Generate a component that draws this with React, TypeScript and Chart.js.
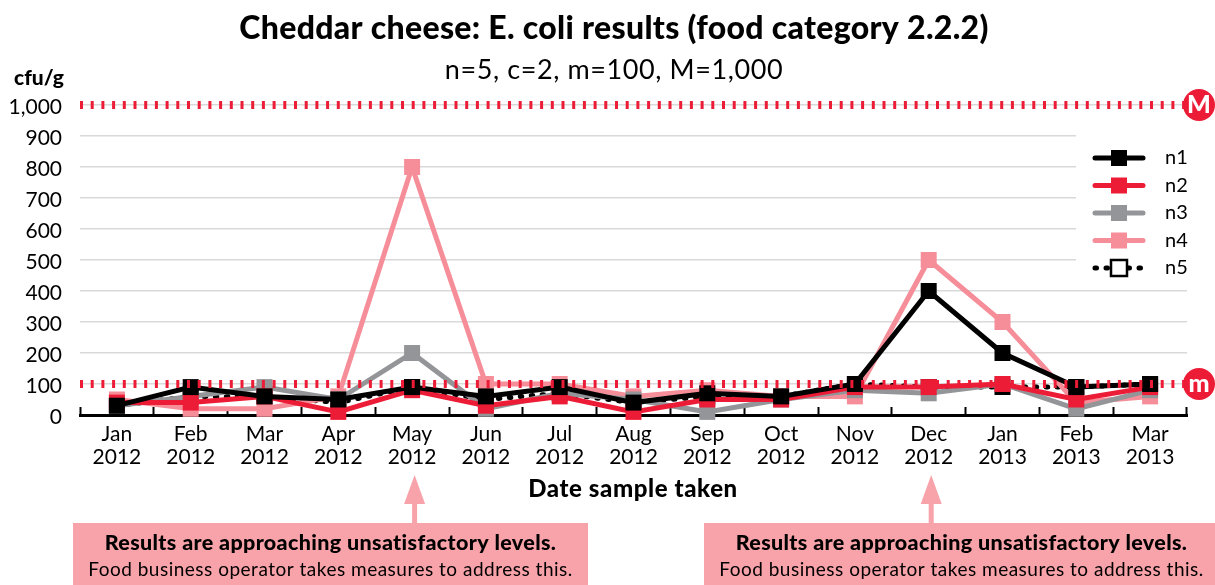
import React, { useEffect, useRef } from "react";
import { Chart, registerables } from "chart.js";

Chart.register(...registerables);

const months = ["Jan", "Feb", "Mar", "Apr", "May", "Jun", "Jul", "Aug", "Sep", "Oct", "Nov", "Dec", "Jan", "Feb", "Mar"];
const years = ["2012", "2012", "2012", "2012", "2012", "2012", "2012", "2012", "2012", "2012", "2012", "2012", "2013", "2013", "2013"];
const n1 = [30, 90, 60, 50, 90, 60, 90, 40, 70, 60, 100, 400, 200, 90, 100];
const n2 = [40, 40, 60, 10, 80, 30, 60, 10, 50, 50, 90, 90, 100, 50, 90];
const n3 = [30, 60, 90, 50, 200, 20, 70, 50, 10, 50, 80, 70, 100, 20, 80];
const n4 = [50, 20, 20, 60, 800, 100, 100, 60, 80, 60, 60, 500, 300, 40, 60];
const n5 = [30, 60, 60, 40, 90, 50, 70, 40, 60, 60, 100, 90, 90, 90, 100];
const limitM = 1000;
const limitm = 100;
const titleText = "Cheddar cheese: E. coli results (food category 2.2.2)";
const subtitleText = "n=5, c=2, m=100, M=1,000";
const yUnit = "cfu/g";
const xTitle = "Date sample taken";
const calloutBold = "Results are approaching unsatisfactory levels.";
const calloutPlain = "Food business operator takes measures to address this.";

const BLACK = "#000000";
const RED = "#ED1C36";
const GRAY = "#939598";
const PINK = "#F68E9A";
const BOX = "#F8A2A9";
const FONT = "Lato";

const series = [
  { label: "n1", data: n1, color: BLACK, order: 1 },
  { label: "n2", data: n2, color: RED, order: 2 },
  { label: "n3", data: n3, color: GRAY, order: 3 },
  { label: "n4", data: n4, color: PINK, order: 4 },
  { label: "n5", data: n5, color: BLACK, order: 5, open: true },
];

function text(ctx: any, s: string, x: number, y: number, font: string, spacing = 0, color = "#000", align: CanvasTextAlign = "center") {
  ctx.font = font;
  ctx.fillStyle = color;
  ctx.textAlign = align;
  ctx.textBaseline = "middle";
  ctx.letterSpacing = `${spacing}px`;
  ctx.fillText(s, x, y);
  ctx.letterSpacing = "0px";
}

const overlay = {
  id: "overlay",
  afterDatasetsDraw(chart: any) {
    const ctx: CanvasRenderingContext2D = chart.ctx;
    const x = chart.scales.x;
    const y = chart.scales.y;
    const chartArea = chart.chartArea;
    ctx.save();

    // legend panel
    ctx.fillStyle = "#fff";
    ctx.fillRect(1076, 130, chartArea.right - 1076 + 2, 152);
    series.forEach((s: any, i) => {
      const ly = 158 + i * 27.5;
      ctx.beginPath();
      ctx.moveTo(1095, ly);
      ctx.lineTo(1143, ly);
      ctx.strokeStyle = s.color;
      ctx.lineWidth = 5;
      ctx.lineCap = "round";
      ctx.setLineDash(s.open ? [1.5, 9.5] : []);
      ctx.stroke();
      ctx.setLineDash([]);
      ctx.lineCap = "butt";
      if (s.open) {
        ctx.fillStyle = "#fff";
        ctx.strokeStyle = BLACK;
        ctx.lineWidth = 2.5;
        ctx.fillRect(1111, ly - 8, 16, 16);
        ctx.strokeRect(1111, ly - 8, 16, 16);
      } else {
        ctx.fillStyle = s.color;
        ctx.fillRect(1111, ly - 8, 16, 16);
      }
      text(ctx, s.label, 1165, ly, `20px ${FONT}`, 0, "#000", "left");
    });

    // limit lines
    [limitM, limitm].forEach((v, i) => {
      const py = y.getPixelForValue(v);
      ctx.beginPath();
      ctx.moveTo(chartArea.left, py);
      ctx.lineTo(1190, py);
      ctx.strokeStyle = RED;
      ctx.lineWidth = 8;
      ctx.setLineDash([3, 7.7]);
      ctx.stroke();
      ctx.setLineDash([]);
      ctx.beginPath();
      ctx.arc(1199, py, 16, 0, Math.PI * 2);
      ctx.fillStyle = RED;
      ctx.fill();
      text(ctx, i === 0 ? "M" : "m", 1199, py, `900 25px ${FONT}`, 0, "#fff");
    });

    // titles
    text(ctx, titleText, 614, 29, `900 32px ${FONT}`, 0.3);
    text(ctx, subtitleText, 614, 70, `27px ${FONT}`, 0.6);
    text(ctx, yUnit, 39, 78, `900 21px ${FONT}`);
    text(ctx, xTitle, 633, 489, `900 24px ${FONT}`, 0.6);

    // callouts
    [4, 11].forEach((idx) => {
      const ax = x.getPixelForValue(idx) + 2.5;
      const cx = idx === 4 ? 330.5 : 961.5;
      ctx.fillStyle = BOX;
      ctx.fillRect(ax - 2.5, 500, 5, 25);
      ctx.beginPath();
      ctx.moveTo(ax, 475);
      ctx.lineTo(ax + 10.5, 504);
      ctx.lineTo(ax - 10.5, 504);
      ctx.closePath();
      ctx.fill();
      ctx.fillRect(cx - 257.5, 523, 515, 62);
      text(ctx, calloutBold, cx, 543, `900 21.5px ${FONT}`, 0.35);
      text(ctx, calloutPlain, cx, 570, `19px ${FONT}`, 0.5);
    });
    ctx.restore();
  },
};

export default function App() {
  const ref = useRef<HTMLCanvasElement>(null);
  useEffect(() => {
    const chart = new Chart(ref.current as HTMLCanvasElement, {
      type: "line",
      data: {
        labels: months.map((m, i) => [m, years[i]]),
        datasets: series.map((s: any) => ({
          label: s.label,
          data: s.data,
          order: s.order,
          borderColor: s.color,
          backgroundColor: s.open ? "#fff" : s.color,
          pointBackgroundColor: s.open ? "#fff" : s.color,
          pointBorderColor: s.color,
          pointBorderWidth: s.open ? 3 : 0,
          borderWidth: 5,
          borderDash: s.open ? [1.5, 9.5] : [],
          borderCapStyle: s.open ? "round" : "butt",
          borderJoinStyle: "miter",
          pointStyle: "rect",
          pointRadius: s.open ? 9.2 : 11.3,
          tension: 0,
          clip: false,
        })),
      },
      plugins: [overlay],
      options: {
        animation: false,
        responsive: false,
        layout: { padding: { left: 0, right: 28, top: 105, bottom: 0 } },
        plugins: { legend: { display: false }, title: { display: false }, tooltip: { enabled: false } },
        scales: {
          x: {
            offset: true,
            afterFit: (s: any) => { s.height = 170; },
            grid: { drawOnChartArea: false, drawTicks: true, tickLength: -8, tickColor: "#000", tickWidth: 2, offset: true },
            border: { color: "#000", width: 3 },
            ticks: { color: "#000", font: { family: FONT, size: 21, lineHeight: 1.1 }, padding: 16, maxRotation: 0, autoSkip: false },
          },
          y: {
            min: 0,
            max: 1000,
            afterFit: (s: any) => { s.width = 80; },
            grid: { color: "#D9D9D9", lineWidth: 1.5, drawTicks: false },
            border: { display: false },
            ticks: {
              stepSize: 100,
              color: "#000",
              padding: 18,
              labelOffset: 2.5,
              font: { family: FONT, size: 21 },
              callback: (v: any) => Number(v).toLocaleString("en-US"),
            },
          },
        },
      },
    } as any);
    return () => chart.destroy();
  }, []);
  return <canvas ref={ref} width={1215} height={585} style={{ position: "fixed", left: 0, top: 0, display: "block" }} />;
}
